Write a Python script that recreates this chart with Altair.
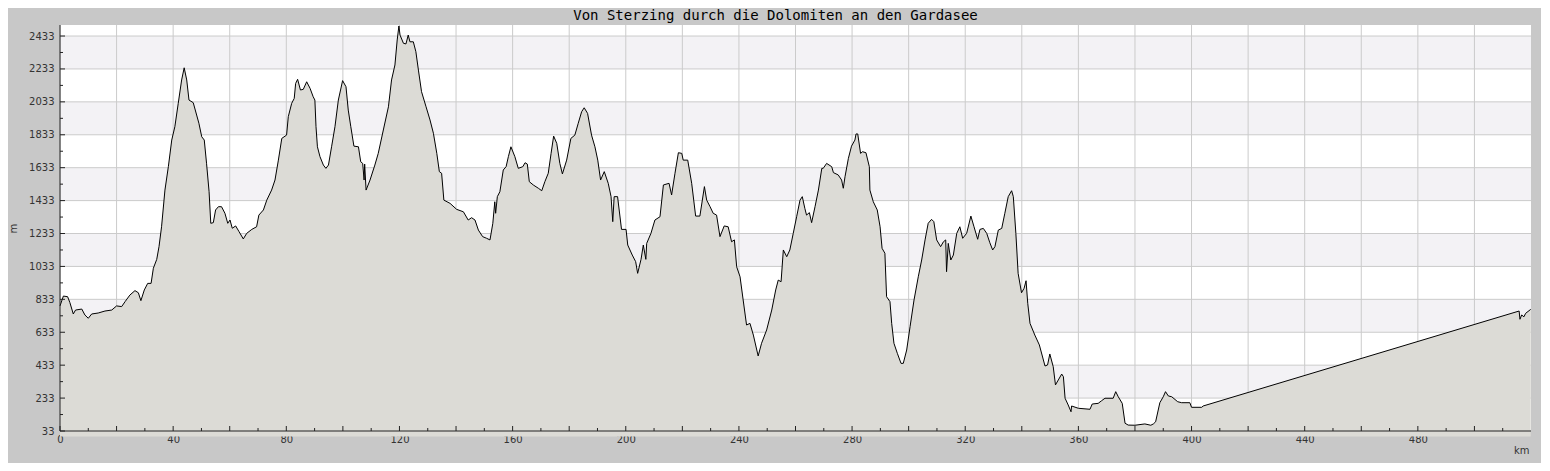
import altair as alt
import pandas as pd

# ---- data ----
km = [0.0, 1.2, 2.7, 3.5, 4.7, 5.5, 7.7, 8.8, 10.0, 11.2, 13.5, 15.9, 18.3, 20.0, 21.8, 23.0, 24.7, 26.5, 27.7, 28.6,
      29.8, 31.0, 32.2, 33.0, 34.2, 35.0, 35.9, 37.1, 38.3, 39.5, 40.6, 41.8, 43.0, 43.9, 44.8, 45.6, 47.1, 48.3, 49.1,
      50.1, 51.0, 51.8, 52.7, 53.3, 54.2, 55.0, 56.0, 57.1, 58.3, 59.3, 60.1, 60.9, 62.1, 63.3, 64.8, 66.0, 67.8, 69.5,
      70.3, 71.9, 73.1, 74.8, 76.0, 77.2, 78.4, 80.1, 80.7, 81.9, 82.8, 83.3, 84.0, 85.0, 86.0,
      87.2, 88.4, 89.5, 90.1, 90.5, 91.0, 91.9, 93.1, 94.0, 94.9, 96.0, 97.2, 98.4, 99.9, 101.1, 101.9, 102.8, 103.9,
      105.5, 106.3, 107.0, 107.5, 107.7, 108.2, 109.6, 111.3, 112.5, 114.3, 116.1, 117.2, 118.4, 119.2, 119.8, 120.2,
      121.4, 122.3, 123.1, 123.7, 124.9, 125.8, 126.7, 127.8, 129.4, 130.8, 132.0, 133.2, 134.1, 134.9, 135.7, 137.9,
      140.2, 142.6, 144.3, 145.5, 146.7, 147.9, 149.4, 150.8, 152.0, 153.0, 153.7, 154.0, 154.6, 155.5, 156.7, 157.7,
      158.5, 159.4, 160.8, 162.0, 163.6, 164.4, 165.2, 165.9, 167.3, 169.1, 170.3,
      171.4, 172.6, 173.6, 174.5, 175.6, 176.7, 177.6, 179.1, 180.6, 182.0, 183.2, 184.4, 185.3, 186.5, 187.9, 189.1,
      190.1, 191.1, 192.4, 193.8, 194.8, 195.4, 195.9, 197.1, 198.5, 200.1, 200.7, 202.3, 203.5, 204.2, 205.4, 206.2,
      207.1, 207.4, 208.9, 210.3, 212.1, 213.3, 215.3, 216.2, 217.4, 218.6, 219.8, 220.3, 221.9, 223.3, 224.7, 226.2,
      227.8, 228.6, 229.8, 230.9, 232.1, 233.3, 234.8, 236.2, 237.4, 238.4, 239.2, 240.4, 241.5, 242.7, 243.9, 245.1,
      246.8, 248.0, 249.8, 251.6, 253.0, 253.9, 254.9, 255.7, 256.9, 258.0,
      259.2, 260.4, 261.6, 262.4, 263.3, 263.9, 264.9, 265.7, 266.9, 268.1, 269.3, 269.8, 271.0, 272.8, 273.4, 275.1,
      276.3, 276.9, 277.5, 278.7, 279.8, 281.0, 281.4, 282.0, 283.0, 283.7, 284.9, 286.1, 286.3, 287.5, 288.9, 289.9,
      290.6, 291.6, 292.2, 293.4, 294.0, 294.8, 296.0, 297.3, 298.1, 299.3, 300.5, 301.9, 303.4, 304.6, 305.8, 306.9,
      308.1, 308.9, 309.9, 311.3, 312.3, 313.1, 313.4, 314.0, 314.9, 315.8, 317.0, 318.1, 319.1, 320.5, 322.0, 323.1,
      324.4, 325.2, 326.4, 327.6, 328.7, 329.7, 330.5, 331.7, 332.9, 334.0, 335.2, 336.4, 337.0, 337.9, 338.7, 339.9,
      340.8, 341.5, 342.1, 342.9, 344.6, 346.2,
      348.2, 349.1, 349.9, 351.1, 351.9, 352.9, 354.1, 354.7, 355.3, 356.4, 357.4, 357.6, 360.0, 364.1, 364.9, 367.0,
      368.2, 369.4, 372.3, 373.2, 374.1, 375.5, 376.5, 377.6, 380.0, 383.5, 385.6, 386.5, 387.3, 388.8, 390.0, 390.8,
      391.8, 393.0, 395.1, 396.5, 399.4, 400.0, 403.6, 404.1,
      515.8, 516.1, 516.7, 517.5, 518.1, 519.9]

elev = [793, 853, 849, 813, 744, 768, 774, 738, 718, 744, 750, 762, 768, 793, 789, 819, 859, 886, 873, 825,
        890, 930, 930, 1022, 1076, 1153, 1274, 1497, 1639, 1801, 1882, 2024, 2166, 2240, 2166, 2044, 2028, 1953, 1903,
        1821, 1801, 1660, 1487, 1295, 1299, 1376, 1396, 1396, 1356, 1295, 1315, 1265, 1279, 1244, 1200, 1234, 1258, 1274,
        1345, 1376, 1436, 1497, 1558, 1679, 1811, 1831, 1943, 2024, 2054, 2145, 2170, 2105, 2109,
        2155, 2115, 2064, 2044, 1882, 1760, 1700, 1649, 1629, 1649, 1760, 1882, 2044, 2162, 2125, 1983, 1882, 1764,
        1760, 1669, 1659, 1558, 1655, 1497, 1558, 1649, 1720, 1862, 2003, 2166, 2257, 2409, 2494, 2439,
        2389, 2385, 2439, 2398, 2398, 2338, 2226, 2095, 2003, 1923, 1842, 1720, 1609, 1599, 1436, 1416,
        1380, 1365, 1315, 1329, 1315, 1254, 1214, 1204, 1194, 1295, 1426, 1356, 1457, 1487, 1619, 1639,
        1700, 1760, 1700, 1629, 1639, 1663, 1655, 1548, 1528, 1508, 1493,
        1548, 1599, 1720, 1825, 1781, 1659, 1595, 1679, 1811, 1831, 1903, 1973, 1997, 1963, 1831, 1760,
        1679, 1558, 1609, 1538, 1457, 1305, 1457, 1457, 1258, 1258, 1163, 1102, 1062, 991, 1076, 1163,
        1076, 1173, 1234, 1315, 1335, 1528, 1538, 1467, 1599, 1724, 1720, 1679, 1679, 1538, 1339, 1339,
        1518, 1436, 1396, 1356, 1345, 1214, 1279, 1274, 1183, 1194, 1031, 970, 829, 677, 687, 616,
        489, 566, 647, 768, 890, 950, 940, 1133, 1092, 1133,
        1234, 1335, 1436, 1457, 1386, 1345, 1360, 1299, 1396, 1497, 1629, 1629, 1659, 1639, 1603, 1589,
        1558, 1508, 1578, 1690, 1764, 1801, 1838, 1838, 1720, 1730, 1724, 1639, 1497, 1426, 1376, 1274,
        1143, 1113, 849, 819, 687, 566, 505, 444, 444, 525, 667, 829, 970, 1072, 1194, 1295,
        1319, 1305, 1194, 1153, 1183, 1194, 1001, 1173, 1072, 1102, 1234, 1274, 1204, 1234, 1339, 1274,
        1198, 1258, 1264, 1234, 1177, 1133, 1153, 1254, 1264, 1356, 1457, 1493, 1457, 1234, 991, 873,
        900, 946, 809, 687, 616, 556,
        428, 434, 501, 424, 313, 343, 379, 363, 232, 191, 150, 185, 171, 165, 197, 201,
        217, 232, 232, 272, 241, 201, 80, 69, 68, 76, 68, 76, 89, 205, 241, 272,
        246, 241, 211, 205, 205, 177, 177, 185,
        762, 712, 738, 727, 748, 772]

y_ticks = [33, 233, 433, 633, 833, 1033, 1233, 1433, 1633, 1833, 2033, 2233, 2433]
y_minor = [133, 333, 533, 733, 933, 1133, 1333, 1533, 1733, 1933, 2133, 2333]
x_ticks = list(range(0, 520, 20))
x_minor = list(range(10, 520, 20))
band_lo = [233, 633, 1033, 1433, 1833, 2233]
band_hi = [433, 833, 1233, 1633, 2033, 2433]
title_text = "Von Sterzing durch die Dolomiten an den Gardasee"

W, H = 1471, 406
XS = alt.Scale(domain=[0, 520], nice=False, zero=False)
YS = alt.Scale(domain=[33, 2500], nice=False, zero=False)

XA = alt.Axis(values=x_ticks, format="d", grid=False, domain=False, ticks=False, tickSize=0,
              labelExpr="datum.value % 40 == 0 ? datum.label : ''",
              labelFlush=False, labelOverlap=False, labelPadding=3,
              labelFont="DejaVu Sans", labelFontSize=10, labelColor="#333333",
              title="km", titleX=W - 2, titleY=14, titleAlign="right",
              titleBaseline="top", titleFont="DejaVu Sans", titleFontSize=10,
              titleFontWeight="normal", titleColor="#333333")
YA = alt.Axis(values=y_ticks, format="d", grid=False, domain=False, ticks=False, tickSize=0,
              labelFlush=False, labelOverlap=False, labelPadding=6,
              labelFont="DejaVu Sans", labelFontSize=10, labelColor="#333333",
              title="m", titleX=-47, titleY=H / 2, titleAngle=270,
              titleBaseline="middle", titleFont="DejaVu Sans", titleFontSize=10,
              titleFontWeight="normal", titleColor="#333333")

prof = pd.DataFrame({"km": km, "m": elev})
bands = pd.DataFrame({"lo": band_lo, "hi": band_hi})
ygrid = pd.DataFrame({"v": y_ticks})
yminor = pd.DataFrame({"v": y_minor})
xgrid = pd.DataFrame({"v": x_ticks})
xminor = pd.DataFrame({"v": x_minor})
one = pd.DataFrame({"a": [0]})

GRID = "#cbcbcb"
AXC = "#222222"

band_layer = alt.Chart(bands).mark_rect(color="#f3f2f5").encode(
    x=alt.value(0), x2=alt.value(W),
    y=alt.Y("lo:Q", scale=YS, axis=YA), y2="hi:Q")

xgrid_layer = alt.Chart(xgrid).mark_rule(color=GRID, strokeWidth=1).encode(
    x=alt.X("v:Q", scale=XS, axis=XA))
ygrid_layer = alt.Chart(ygrid).mark_rule(color=GRID, strokeWidth=1).encode(
    y=alt.Y("v:Q", scale=YS, axis=YA))

area_layer = alt.Chart(prof).mark_area(color="#dcdbd6", opacity=1).encode(
    x=alt.X("km:Q", scale=XS, axis=XA),
    y=alt.Y("m:Q", scale=YS, axis=YA))

line_layer = alt.Chart(prof).mark_line(color="black", strokeWidth=1).encode(
    x=alt.X("km:Q", scale=XS, axis=XA), y=alt.Y("m:Q", scale=YS, axis=YA))

ytick_major = alt.Chart(ygrid).mark_rule(color=AXC).encode(
    y=alt.Y("v:Q", scale=YS, axis=YA), x=alt.value(0), x2=alt.value(5))
ytick_minor = alt.Chart(yminor).mark_rule(color=AXC).encode(
    y=alt.Y("v:Q", scale=YS, axis=YA), x=alt.value(0), x2=alt.value(3))
xtick_major = alt.Chart(xgrid).mark_rule(color=AXC).encode(
    x=alt.X("v:Q", scale=XS, axis=XA), y=alt.value(H), y2=alt.value(H - 5))
xtick_minor = alt.Chart(xminor).mark_rule(color=AXC).encode(
    x=alt.X("v:Q", scale=XS, axis=XA), y=alt.value(H), y2=alt.value(H - 3))

left_dom = alt.Chart(one).mark_rule(color=AXC).encode(
    x=alt.value(0), y=alt.value(0), y2=alt.value(H))
bottom_dom = alt.Chart(one).mark_rule(color=AXC).encode(
    y=alt.value(H), x=alt.value(0), x2=alt.value(W))

chart = alt.layer(
    band_layer, xgrid_layer, ygrid_layer, area_layer, line_layer,
    ytick_major, ytick_minor, xtick_major, xtick_minor, left_dom, bottom_dom
).properties(
    width=W, height=H,
    title=alt.TitleParams(title_text, font="DejaVu Sans Mono", fontSize=14, fontWeight="normal",
                          color="black", anchor="middle", dx=-20, dy=5, offset=6),
    autosize=alt.AutoSizeParams(type="none"),
    padding={"left": 52, "top": 17, "right": 10, "bottom": 32},
).configure(background="#c8c8c8").configure_view(stroke=None, fill="white")

chart.save("out.html", embed_options={"renderer": "svg", "actions": False})
